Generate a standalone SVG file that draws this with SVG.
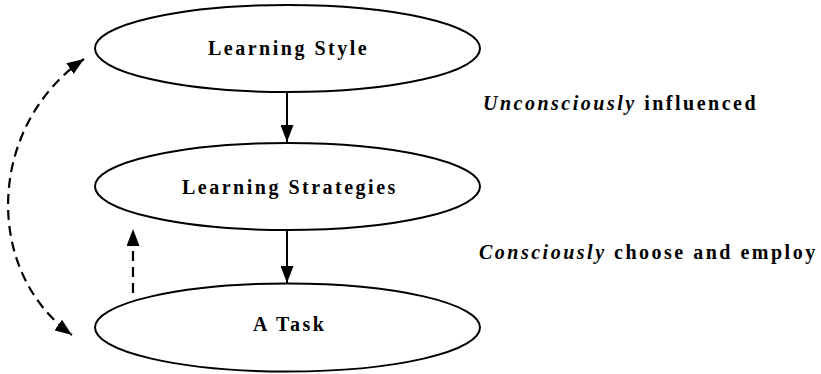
<svg xmlns="http://www.w3.org/2000/svg" width="821" height="374" viewBox="0 0 821 374">
  <style>
    .node { fill: #fff; stroke: #000; stroke-width: 2; }
    .label { font-family: "Liberation Serif", "Times New Roman", serif; font-size: 20px; font-weight: bold; letter-spacing: 2.5px; fill: #000; }
    .em { font-style: italic; }
    .solid { stroke: #000; stroke-width: 2; fill: none; }
    .dashed { stroke: #000; stroke-width: 2.2; fill: none; stroke-dasharray: 10 6; }
  </style>
  <defs>
    <marker id="head" viewBox="0 0 17 13" refX="17" refY="6.5" markerWidth="17" markerHeight="13" markerUnits="userSpaceOnUse" orient="auto-start-reverse">
      <path d="M0,0 L17,6.5 L0,13 Z" fill="#000"/>
    </marker>
  </defs>
  <rect width="821" height="374" fill="#fff"/>

  <g id="connectors">
    <line class="solid" x1="287" y1="92" x2="287" y2="142" marker-end="url(#head)"/>
    <line class="solid" x1="287" y1="230" x2="287" y2="283" marker-end="url(#head)"/>
    <line class="dashed" x1="133" y1="293" x2="133" y2="229" marker-end="url(#head)"/>
    <!-- two-way link between style and task, bowing out to the left -->
    <path class="dashed" d="M84,59 C-12,125 -18,270 72,335" marker-start="url(#head)" marker-end="url(#head)"/>
  </g>

  <g id="learning-style">
    <ellipse class="node" cx="287.5" cy="48.5" rx="192.5" ry="43.5"/>
    <text class="label" x="208" y="54.5">Learning Style</text>
  </g>

  <g id="learning-strategies">
    <ellipse class="node" cx="287.5" cy="186.5" rx="192.5" ry="43.5"/>
    <text class="label" x="182" y="193.5">Learning Strategies</text>
  </g>

  <g id="a-task">
    <ellipse class="node" cx="287.5" cy="327.5" rx="192.5" ry="44"/>
    <text class="label" x="253" y="330.5">A Task</text>
  </g>

  <g id="notes">
    <text class="label" x="483" y="110">
      <tspan class="em">Unconsciously</tspan> influenced</text>
    <text class="label" x="479" y="258.5"><tspan class="em">Consciously</tspan> choose and employ</text>
  </g>
</svg>
